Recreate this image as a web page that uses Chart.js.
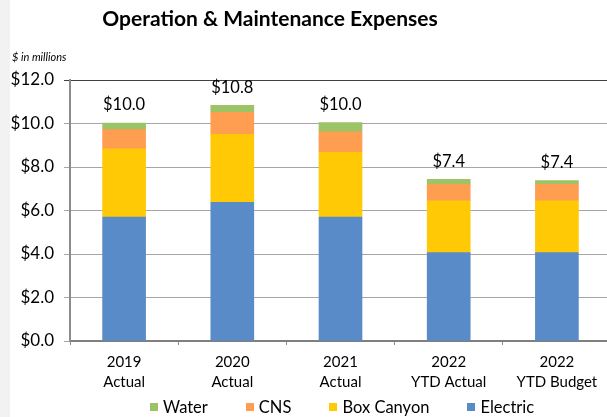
<!DOCTYPE html>
<html>
<head>
<meta charset="utf-8">
<script src="https://cdn.jsdelivr.net/npm/chart.js@4/dist/chart.umd.min.js"></script>
<style>
    html, body {
        margin: 0;
        padding: 0;
        width: 607px;
        height: 417px;
        overflow: hidden;
        background: linear-gradient(to right, #f2f2f2 0, #f2f2f2 10px, #ffffff 10px);
        font-family: Lato, "Noto Sans", sans-serif;
    }
    #wrap { position: relative; width: 607px; height: 417px; }
    #chart { position: absolute; left: 0; top: 0; }
    #title {
        position: absolute;
        left: 0;
        top: 4px;
        width: 540px;
        text-align: center;
        font-size: 21px;
        font-weight: bold;
        color: #000;
        line-height: 28px;
    }
    #units {
        position: absolute;
        left: 12px;
        top: 50px;
        font-size: 11px;
        font-style: italic;
        color: #000;
    }
    #legend {
        position: absolute;
        left: 150px;
        top: 396px;
        display: flex;
        gap: 38px;
        font-size: 16.5px;
        line-height: 22px;
        color: #000;
    }
    .legend-item { display: flex; align-items: center; }
    .legend-box { width: 8px; height: 8px; margin-right: 5px; }
</style>
</head>
<body>
<div id="wrap">
    <canvas id="chart" width="611" height="417"></canvas>
    <div id="title">Operation &amp; Maintenance Expenses</div>
    <div id="units">$ in millions</div>
    <div id="legend"></div>
</div>
<script>
// Chart data ($ in millions)
const categories = [["2019", "Actual"], ["2020", "Actual"], ["2021", "Actual"], ["2022", "YTD Actual"], ["2022", "YTD Budget"]];
const electric = [5.70, 6.38, 5.70, 4.06, 4.06];
const boxCanyon = [3.13, 3.12, 2.98, 2.38, 2.38];
const cns = [0.89, 1.01, 0.94, 0.76, 0.76];
const water = [0.30, 0.32, 0.42, 0.23, 0.17];
const yTickValues = [0, 2, 4, 6, 8, 10, 12];

const seriesNames = ["Electric", "Box Canyon", "CNS", "Water"];
const seriesColors = ["#5a8bc9", "#ffca05", "#ff9e50", "#9cc366"];
const seriesValues = [electric, boxCanyon, cns, water];

// Total label on top of each stack
const totalLabels = {
    id: "totalLabels",
    afterDatasetsDraw(chart) {
        const ctx = chart.ctx;
        const topMeta = chart.getDatasetMeta(chart.data.datasets.length - 1);
        ctx.save();
        ctx.font = "16.5px Lato";
        ctx.fillStyle = "#000";
        ctx.textAlign = "center";
        ctx.textBaseline = "middle";
        categories.forEach((c, i) => {
            let total = seriesValues.reduce((s, arr) => s + arr[i], 0);
            let bar = topMeta.data[i];
            ctx.fillText("$" + total.toFixed(1), bar.x, bar.y - 18);
        });
        ctx.restore();
    }
};

const chart = new Chart(document.getElementById("chart"), {
    type: "bar",
    data: {
        labels: categories,
        datasets: seriesNames.map((name, i) => ({
            label: name,
            data: seriesValues[i],
            backgroundColor: seriesColors[i],
            borderWidth: 0,
            barThickness: 43
        }))
    },
    options: {
        responsive: false,
        animation: false,
        devicePixelRatio: 1,
        layout: { padding: { top: 80, left: 0, right: 0, bottom: 24 } },
        plugins: {
            legend: { display: false },
            tooltip: { enabled: false }
        },
        scales: {
            x: {
                stacked: true,
                grid: { drawOnChartArea: false, tickLength: 4, color: "#8c8c8c", offset: true },
                border: { color: "#7f7f7f", width: 2 },
                ticks: {
                    color: "#000",
                    padding: 7,
                    maxRotation: 0,
                    font: { family: "Lato", size: 15, lineHeight: 1.33 }
                },
                afterFit: scale => { scale.height = 52; }
            },
            y: {
                stacked: true,
                min: 0,
                max: 12,
                afterBuildTicks: scale => { scale.ticks = yTickValues.map(v => ({ value: v })); },
                grid: {
                    tickLength: 6,
                    lineWidth: 1,
                    color: ctx => ctx.tick && ctx.tick.value === 12 ? "#404040" : "#a6a6a6"
                },
                border: { color: "#8c8c8c", width: 2 },
                ticks: {
                    color: "#000",
                    padding: 10,
                    font: { family: "Lato", size: 17 },
                    callback: v => "$" + Number(v).toFixed(1)
                },
                afterFit: scale => { scale.width = 70; }
            }
        }
    },
    plugins: [totalLabels]
});

// HTML legend, reverse of stack order
const legendEl = document.getElementById("legend");
seriesNames.slice().reverse().forEach((name, k) => {
    let i = seriesNames.length - 1 - k;
    let item = document.createElement("div");
    item.classList.add("legend-item");
    item.innerHTML = `<span class="legend-box" style="background:${seriesColors[i]}"></span><span>${name}</span>`;
    legendEl.appendChild(item);
});
</script>
</body>
</html>
